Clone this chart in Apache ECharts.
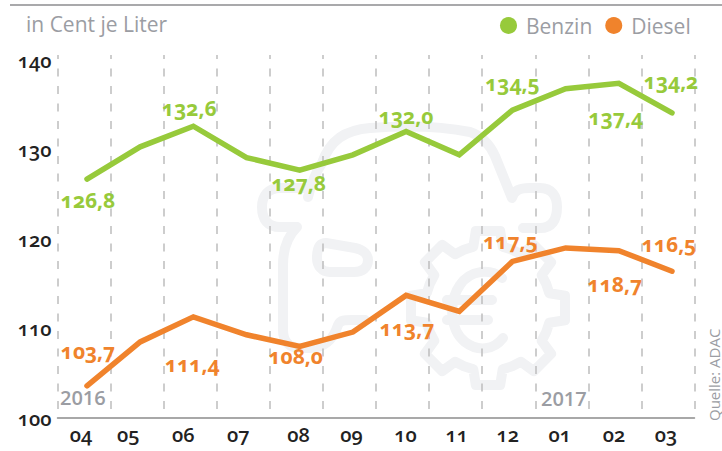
<!DOCTYPE html>
<html>
<head>
<meta charset="utf-8">
<title>Benzin Diesel</title>
<style>
html, body { margin: 0; padding: 0; background: #fff; overflow: hidden; }
#chart { width: 722px; height: 451px; }
/* Mediävalziffern wie im Original */
#chart text { font-variant-numeric: oldstyle-nums; font-feature-settings: "onum"; }
</style>
<script src="https://cdn.jsdelivr.net/npm/echarts@6/dist/echarts.min.js"></script>
</head>
<body>
<div id="chart"></div>
<script>
const months = ['04', '05', '06', '07', '08', '09', '10', '11', '12', '01', '02', '03'];
const yTicks = [100, 110, 120, 130, 140];
const benzin = [126.7, 130.3, 132.6, 129.1, 127.7, 129.4, 132.0, 129.4, 134.4, 136.8, 137.4, 134.1];
const diesel = [103.6, 108.5, 111.3, 109.3, 108.0, 109.6, 113.7, 111.9, 117.5, 119.0, 118.7, 116.4];
// Beschriftungen stehen so im Original, auch wenn sie nicht immer zur Linie passen
const benzinLabels = ['126,8', '', '132,6', '', '127,8', '', '132,0', '', '134,5', '', '137,4', '134,2'];
const dieselLabels = ['103,7', '', '111,4', '', '108,0', '', '113,7', '', '117,5', '', '118,7', '116,5'];
const benzinOffsets = [[1, 21], 0, [-4, -18], 0, [-1, 13], 0, [0, -16], 0, [0, -27], 0, [-3, 34], [-1, -32]];
const dieselOffsets = [[1, -35], 0, [-1, 47], 0, [-4, 10], 0, [1, 33], 0, [-2, -20], 0, [-4, 33], [-3, -27]];
// Monatsbeschriftung sitzt im Original nicht mittig im Feld
const monthShift = [-3, -9, -7, -5, 2, 2, 3, 1, -1, -2, -1, -2];

const GREEN = '#97ca3b';
const ORANGE = '#f0832c';
const GREY = '#9b9da3';
const MARK = '#f1f2f4';
const FONT = '"Open Sans", "Noto Sans", sans-serif';

let $chart = echarts.init(document.getElementById('chart'), null, { renderer: 'svg' });

function points(values, labels, offsets, color) {
	return values.map((v, i) => ({
		value: v,
		label: labels[i] ? {
			show: true,
			position: 'inside',
			formatter: labels[i],
			offset: offsets[i],
			color: color,
			fontFamily: FONT,
			fontSize: 21,
			fontWeight: 700
		} : { show: false }
	}));
}

function monthItems() {
	return months.map((m, i) => ({
		value: m,
		textStyle: {
			padding: monthShift[i] < 0 ? [0, -2 * monthShift[i], 0, 0] : [0, 0, 0, 2 * monthShift[i]]
		}
	}));
}

// Zahnrad im Hintergrund
function gearPath(cx, cy, ro, ri, teeth) {
	let d = '';
	const step = Math.PI * 2 / teeth;
	for (let i = 0; i < teeth; i++) {
		const a = i * step - Math.PI / 2;
		const list = [[ri, a - step * 0.5], [ri, a - step * 0.3], [ro, a - step * 0.2], [ro, a + step * 0.2], [ri, a + step * 0.3]];
		list.forEach((p, j) => {
			const x = (cx + p[0] * Math.cos(p[1])).toFixed(1);
			const y = (cy + p[0] * Math.sin(p[1])).toFixed(1);
			d += (i === 0 && j === 0 ? 'M' : 'L') + x + ' ' + y + ' ';
		});
	}
	return d + 'Z';
}

function greyText(text, left, top, fontSize) {
	return {
		type: 'text',
		left: left,
		top: top,
		z: 1,
		silent: true,
		style: { text: text, fill: GREY, font: '600 ' + fontSize + 'px ' + FONT }
	};
}

const pump = 'M308 197 C312 180 316 172 322 163 C330 140 345 130 370 128 C410 125 440 126 470 132 C482 136 490 145 495 156 L512 198 C514 190 520 188 530 188 L540 188 C552 188 557 196 557 207 C557 220 552 228 540 228 L523 228 ' +
	'M303 188 L280 188 C268 188 262 196 262 207 C262 220 268 227 280 227 L297 227 C288 236 283 250 283 265 L283 330 C283 342 290 348 300 348 L310 348 C325 348 333 340 338 325 C340 320 345 320 352 320 L365 320 ' +
	'M326 243 L355 248 C364 250 368 255 368 260 C368 268 362 272 354 272 L330 272 C322 272 317 266 317 258 C317 248 320 243 326 243 Z';
const euro = 'M502 278 C490 268 470 270 460 285 C448 302 450 330 465 342 C478 352 494 350 503 338 M447 300 L492 300 M447 320 L488 320';

echarts.graphic.registerShape('tankstelle', echarts.graphic.extendPath(pump + ' ' + gearPath(488, 308, 78, 63, 8) + ' ' + euro, {}));

const option = {
	animation: false,
	backgroundColor: '#fff',
	title: {
		text: 'in Cent je Liter',
		left: 21,
		top: 8,
		textStyle: { color: GREY, fontFamily: FONT, fontSize: 21, fontWeight: 400 }
	},
	legend: {
		left: 495,
		top: 10,
		icon: 'circle',
		itemWidth: 17,
		itemHeight: 17,
		itemGap: 13,
		textStyle: { color: GREY, fontFamily: FONT, fontSize: 21, padding: [0, 0, 0, 4] },
		data: ['Benzin', 'Diesel']
	},
	grid: [
		{ left: 60.4, width: 638.2, top: 60, height: 358 },
		{ left: 57.5, width: 637, top: 55, height: 363 }
	],
	xAxis: [
		{ type: 'category', gridIndex: 0, data: months, boundaryGap: true, show: false },
		{
			type: 'category',
			gridIndex: 1,
			data: monthItems(),
			boundaryGap: true,
			axisLine: { show: true, lineStyle: { color: '#8c8c8c', width: 1.5 } },
			axisTick: { show: false },
			axisLabel: { interval: 0, margin: 6, color: '#222', fontFamily: FONT, fontSize: 20, fontWeight: 600 },
			splitLine: { show: true, interval: 0, lineStyle: { color: '#bdbdbd', width: 1.5, type: [8, 9.5], dashOffset: 4 } }
		}
	],
	yAxis: [
		{
			type: 'value',
			gridIndex: 0,
			min: 100,
			max: 140,
			interval: 10,
			axisLine: { show: false },
			axisTick: { show: false },
			axisLabel: {
				margin: 9,
				color: '#222',
				fontFamily: FONT,
				fontSize: 20,
				fontWeight: 600,
				padding: [0, 0, 8, 0],
				formatter: v => (yTicks.includes(v) ? String(v) : '')
			},
			splitLine: { show: false }
		},
		{ type: 'value', gridIndex: 1, min: 0, max: 1, show: false, splitLine: { show: false } }
	],
	series: [
		{
			name: 'Benzin',
			type: 'line',
			xAxisIndex: 0,
			yAxisIndex: 0,
			symbol: 'circle',
			symbolSize: 1,
			showSymbol: true,
			showAllSymbol: true,
			z: 5,
			itemStyle: { color: GREEN },
			lineStyle: { color: GREEN, width: 5.5, cap: 'round', join: 'miter' },
			data: points(benzin, benzinLabels, benzinOffsets, GREEN)
		},
		{
			name: 'Diesel',
			type: 'line',
			xAxisIndex: 0,
			yAxisIndex: 0,
			symbol: 'circle',
			symbolSize: 1,
			showSymbol: true,
			showAllSymbol: true,
			z: 5,
			itemStyle: { color: ORANGE },
			lineStyle: { color: ORANGE, width: 5.5, cap: 'round', join: 'miter' },
			data: points(diesel, dieselLabels, dieselOffsets, ORANGE)
		}
	],
	graphic: [
		{
			type: 'line',
			z: 1,
			silent: true,
			shape: { x1: 10, y1: 5, x2: 722, y2: 5 },
			style: { stroke: '#a9a9ab', lineWidth: 2 }
		},
		{
			type: 'tankstelle',
			z: 0,
			silent: true,
			style: { fill: 'none', stroke: MARK, lineWidth: 10, lineCap: 'round', lineJoin: 'round' }
		},
		greyText('2016', 60, 387, 20),
		greyText('2017', 541, 388, 20),
		{
			type: 'text',
			z: 1,
			silent: true,
			x: 706,
			y: 421,
			rotation: Math.PI / 2,
			style: { text: 'Quelle: ADAC', fill: GREY, font: '400 15px ' + FONT, align: 'left', verticalAlign: 'top' }
		}
	]
};

$chart.setOption(option);
</script>
</body>
</html>
